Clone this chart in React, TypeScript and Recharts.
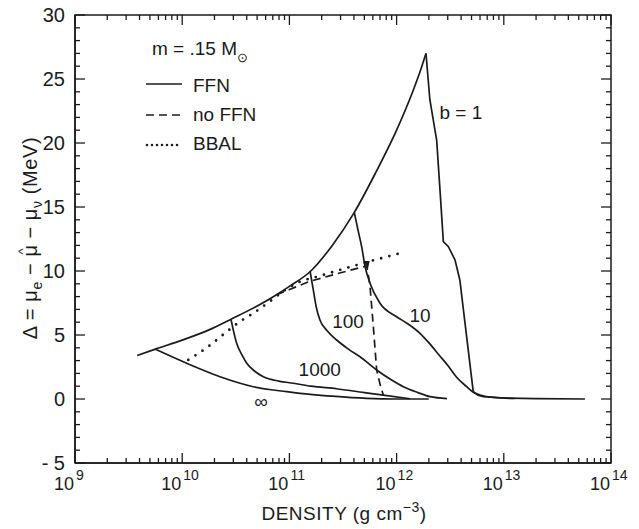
import { LineChart, Line, XAxis, YAxis, ReferenceDot, ReferenceLine, ReferenceArea, Legend } from "recharts";

// density is kept as log10(rho / g cm^-3), delta in MeV

// b = 1 envelope, rising part
const RISE_LG = [9.58, 9.75, 10.0, 10.25, 10.46, 10.75, 10.88, 11.0, 11.2, 11.4, 11.6, 11.8, 12.0, 12.15, 12.22, 12.274];
const RISE_DELTA = [3.4, 3.9, 4.6, 5.4, 6.25, 7.5, 8.15, 8.8, 10.0, 12.0, 14.5, 17.6, 21.0, 24.0, 25.6, 27.0];

// b = 1 drop after the peak, down to the flat tail
const DROP_LG = [12.274, 12.31, 12.374, 12.405, 12.436, 12.483, 12.545, 12.59, 12.62, 12.715, 12.76, 12.81, 13.0, 13.3, 13.757];
const DROP_DELTA = [27.0, 23.4, 20.2, 16.3, 12.3, 11.9, 10.86, 9.3, 7.2, 0.57, 0.3, 0.18, 0.08, 0.03, 0.0];

const B10_LG = [11.606, 11.64, 11.674, 11.705, 11.752, 11.845, 12.0, 12.1, 12.218, 12.3, 12.4, 12.48, 12.56, 12.654, 12.72, 12.778, 12.9, 13.1];
const B10_DELTA = [14.55, 13.2, 11.9, 10.39, 9.04, 7.48, 6.43, 5.9, 5.13, 4.4, 3.4, 2.6, 1.7, 0.96, 0.5, 0.31, 0.12, 0.04];

const B100_LG = [11.192, 11.223, 11.25, 11.285, 11.35, 11.441, 11.55, 11.659, 11.814, 11.95, 12.063, 12.2, 12.312, 12.47];
const B100_DELTA = [10.02, 8.52, 7.2, 6.17, 5.35, 4.61, 3.9, 3.3, 2.27, 1.5, 0.96, 0.5, 0.18, 0.03];

const B1000_LG = [10.455, 10.508, 10.56, 10.602, 10.68, 10.757, 10.9, 11.036, 11.2, 11.441, 11.7, 11.876, 12.125];
const B1000_DELTA = [6.22, 4.35, 3.4, 2.79, 2.15, 1.74, 1.4, 1.23, 1.0, 0.8, 0.5, 0.31, 0.02];

const BINF_LG = [9.746, 10.042, 10.353, 10.663, 10.975, 11.1, 11.4, 11.72, 12.0, 12.3];
const BINF_DELTA = [3.9, 2.79, 1.74, 0.96, 0.57, 0.44, 0.22, 0.05, 0.0, 0.0];

// no FFN branch; index 4 is where it leaves the b = 10 curve
const NOFFN_LG = [10.88, 11.0, 11.192, 11.45, 11.721, 11.75, 11.783, 11.814, 11.85, 11.876];
const NOFFN_DELTA = [8.15, 8.55, 9.2, 9.8, 10.4, 9.0, 5.65, 2.27, 1.0, 0.31];

const BBAL_LG = [10.057, 10.26, 10.415, 10.54, 10.663, 10.835, 10.95, 11.068, 11.3, 11.628, 12.03];
const BBAL_DELTA = [3.05, 4.2, 5.25, 6.05, 6.7, 7.73, 8.45, 9.04, 9.65, 10.47, 11.38];

const DECADES = [9, 10, 11, 12, 13, 14];
const MINOR_STEPS = [2, 3, 4, 5, 6, 7, 8, 9];
const Y_TICKS = Array.from({ length: 36 }, (_, i) => i - 5);

// curve labels: [text, lgRho, delta]
const CURVE_LABELS: [string, number, number][] = [
  ["b = 1", 12.6, 22.4],
  ["10", 12.218, 6.56],
  ["100", 11.547, 6.05],
  ["1000", 11.283, 2.34],
  ["∞", 10.735, -0.16],
];

const X_TICKS = DECADES.flatMap((d) => (d === 14 ? [d] : [d, ...MINOR_STEPS.map((k) => d + Math.log10(k))]));
const zip = (xs: number[], ys: number[]) => xs.map((x, i) => ({ x, y: ys[i] }));

const X_MIN = 9;
const X_MAX = 14;
const Y_MIN = -5;
const Y_MAX = 30;
// inward tick lengths in axis units (long / short)
const XTICK_LEN = [0.78, 0.39];
const YTICK_LEN = [0.093, 0.047];

const INK = "#1b1b1b";
const FONT = "'Liberation Sans', Arial, sans-serif";
const isMajorX = (v: number) => Math.abs(v - Math.round(v)) < 1e-6;
const isMajorY = (v: number) => v % 5 === 0;

const bottomTick = (props: any) => {
  const { x, y, payload, index } = props;
  if (!isMajorX(payload.value)) return <g key={`b${index}`} />;
  return (
    <g key={`b${index}`}>
      <text x={x - 1} y={y + 27} textAnchor="end" fontSize={18} fontFamily={FONT} fill={INK}>
        10
      </text>
      <text x={x + 1} y={y + 17} textAnchor="start" fontSize={14} fontFamily={FONT} fill={INK}>
        {String(Math.round(payload.value))}
      </text>
    </g>
  );
};

const leftTick = (props: any) => {
  const { x, y, payload, index } = props;
  const v = payload.value as number;
  if (!isMajorY(v)) return <g key={`l${index}`} />;
  return (
    <g key={`l${index}`}>
      <text x={x - 10} y={y + 7} textAnchor="end" fontSize={20} fontFamily={FONT} fill={INK}>
        {v < 0 ? `- ${-v}` : String(v)}
      </text>
    </g>
  );
};

const YTitle = () => (
  <text
    x={37}
    y={238}
    transform="rotate(-90, 37, 238)"
    textAnchor="middle"
    fontSize={20}
    fontFamily={FONT}
    fill={INK}
    letterSpacing={0.6}
  >
    Δ = μ<tspan dy={5} fontSize={14}>e</tspan>
    <tspan dy={-5}> − μ</tspan>
    <tspan dx={-10} dy={-10} fontSize={13}>^</tspan>
    <tspan dx={3} dy={10}> − μ</tspan>
    <tspan dy={5} fontSize={14}>ν</tspan>
    <tspan dy={-5}> (MeV)</tspan>
  </text>
);

const XTitle = () => (
  <text x={344} y={520} textAnchor="middle" fontSize={19} fontFamily={FONT} fill={INK} letterSpacing={0.5}>
    DENSITY (g cm<tspan dy={-8} fontSize={14}>−3</tspan>
    <tspan dy={8}>)</tspan>
  </text>
);

const KeyBox = () => (
  <svg width={320} height={170} style={{ display: "block" }}>
    <g fontFamily={FONT} fontSize={19} fill={INK}>
      <text x={152} y={55}>
        m = .15 M<tspan dy={7} fontSize={13}>⊙</tspan>
      </text>
      <line x1={146} x2={182} y1={84} y2={84} stroke={INK} strokeWidth={1.7} />
      <text x={193} y={92}>FFN</text>
      <line x1={146} x2={182} y1={115} y2={115} stroke={INK} strokeWidth={1.7} strokeDasharray="8 5" />
      <text x={193} y={121}>no FFN</text>
      <line x1={147} x2={182} y1={145} y2={145} stroke={INK} strokeWidth={2.6} strokeDasharray="0 5" strokeLinecap="round" />
      <text x={193} y={150}>BBAL</text>
    </g>
  </svg>
);

const SplitArrow = (props: any) => {
  const { cx, cy, index } = props;
  if (index !== 4) return <g key={`n${index}`} />;
  return <polygon key={`a${index}`} points={`${cx - 3},${cy - 5} ${cx + 3},${cy - 5} ${cx + 1},${cy + 4}`} fill={INK} />;
};

const solid = { stroke: INK, strokeWidth: 1.7, dot: false, isAnimationActive: false } as const;
const tickStroke = { stroke: INK, strokeWidth: 1.3 } as const;

export default function App() {
  return (
    <LineChart
      width={639}
      height={529}
      margin={{ top: 15, right: 28, bottom: 0, left: 0 }}
      style={{ position: "absolute", left: 0, top: 0 }}
    >
      <XAxis
        dataKey="x"
        type="number"
        domain={[X_MIN, X_MAX]}
        ticks={X_TICKS}
        interval={0}
        height={66}
        tickSize={0}
        tickMargin={0}
        tick={bottomTick}
        axisLine={{ stroke: INK, strokeWidth: 1.5 }}
        label={<XTitle />}
      />
      <YAxis
        type="number"
        domain={[Y_MIN, Y_MAX]}
        ticks={Y_TICKS}
        interval={0}
        width={75}
        tickSize={0}
        tickMargin={0}
        tick={leftTick}
        axisLine={{ stroke: INK, strokeWidth: 1.5 }}
        label={<YTitle />}
      />
      <Legend
        layout="horizontal"
        verticalAlign="middle"
        align="center"
        content={() => <KeyBox />}
        wrapperStyle={{ left: 0, top: 0, width: 320, height: 170 }}
      />

      {/* plot frame */}
      <ReferenceArea x1={X_MIN} x2={X_MAX} y1={Y_MIN} y2={Y_MAX} fill="none" fillOpacity={0} stroke={INK} strokeWidth={1.5} />

      {/* inward ticks, bottom and top */}
      {X_TICKS.map((t, i) => {
        const len = XTICK_LEN[isMajorX(t) ? 0 : 1];
        return [
          <ReferenceLine key={`xb${i}`} segment={[{ x: t, y: Y_MIN }, { x: t, y: Y_MIN + len }]} {...tickStroke} />,
          <ReferenceLine key={`xt${i}`} segment={[{ x: t, y: Y_MAX }, { x: t, y: Y_MAX - len }]} {...tickStroke} />,
        ];
      })}
      {/* inward ticks, left and right */}
      {Y_TICKS.map((v, i) => {
        const len = YTICK_LEN[isMajorY(v) ? 0 : 1];
        return [
          <ReferenceLine key={`yl${i}`} segment={[{ x: X_MIN, y: v }, { x: X_MIN + len, y: v }]} {...tickStroke} />,
          <ReferenceLine key={`yr${i}`} segment={[{ x: X_MAX, y: v }, { x: X_MAX - len, y: v }]} {...tickStroke} />,
        ];
      })}

      <Line data={zip(RISE_LG, RISE_DELTA)} dataKey="y" type="monotoneX" {...solid} />
      <Line data={zip(DROP_LG, DROP_DELTA)} dataKey="y" type="linear" {...solid} />
      <Line data={zip(B10_LG, B10_DELTA)} dataKey="y" type="monotoneX" {...solid} />
      <Line data={zip(B100_LG, B100_DELTA)} dataKey="y" type="monotoneX" {...solid} />
      <Line data={zip(B1000_LG, B1000_DELTA)} dataKey="y" type="monotoneX" {...solid} />
      <Line data={zip(BINF_LG, BINF_DELTA)} dataKey="y" type="monotoneX" {...solid} />
      <Line
        data={zip(NOFFN_LG, NOFFN_DELTA)}
        dataKey="y"
        type="linear"
        stroke={INK}
        strokeWidth={1.7}
        strokeDasharray="8 5"
        dot={<SplitArrow />}
        isAnimationActive={false}
      />
      <Line
        data={zip(BBAL_LG, BBAL_DELTA)}
        dataKey="y"
        type="monotoneX"
        stroke={INK}
        strokeWidth={2.8}
        strokeDasharray="0 8.5"
        strokeLinecap="round"
        dot={false}
        isAnimationActive={false}
      />

      {CURVE_LABELS.map(([text, lg, d]) => (
        <ReferenceDot
          key={text}
          x={lg}
          y={d}
          r={0}
          fill="none"
          stroke="none"
          label={{ value: text, position: "center", fontSize: 19, fontFamily: FONT, fill: INK }}
        />
      ))}
    </LineChart>
  );
}
